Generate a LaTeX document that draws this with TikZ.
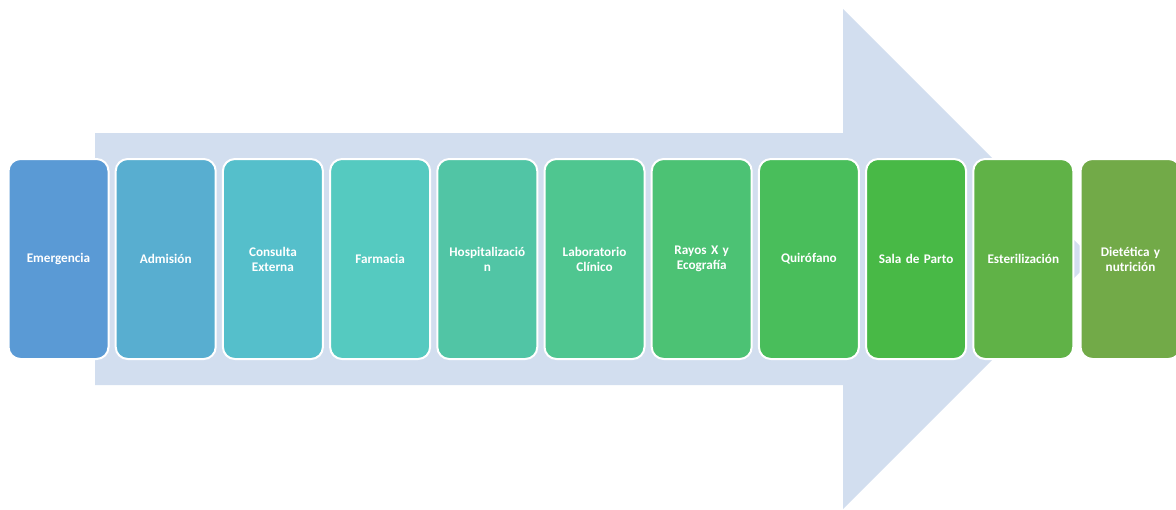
\documentclass[tikz,border=0pt]{standalone}
\usepackage{fontspec}
\setmainfont{Carlito}
\definecolor{arrowbg}{HTML}{D2DEEF}
\definecolor{c1}{HTML}{5A9AD5}
\definecolor{c2}{HTML}{58AED0}
\definecolor{c3}{HTML}{55BFCB}
\definecolor{c4}{HTML}{55CAC0}
\definecolor{c5}{HTML}{51C5A5}
\definecolor{c6}{HTML}{4FC690}
\definecolor{c7}{HTML}{4CC274}
\definecolor{c8}{HTML}{49BE5B}
\definecolor{c9}{HTML}{48B946}
\definecolor{c10}{HTML}{60B247}
\definecolor{c11}{HTML}{72AA48}
\tikzset{
  stage/.style={draw=white, line width=2pt, rounded corners=12pt,
    minimum width=100pt, minimum height=200pt, inner sep=0pt,
    text=white, font=\fontsize{13.2}{15}\selectfont\bfseries,
    align=center, text width=90pt},
}
\begin{document}
\begin{tikzpicture}[x=1pt,y=-1pt]
\useasboundingbox (0,0) rectangle (1176,509);
\fill[arrowbg] (95,133) -- (843,133) -- (843,9) -- (1093,259) -- (843,509)
  -- (843,385) -- (95,385) -- cycle;
\node[stage, fill=c1]  (n1)  at (58.5,259)  {Emergencia};
\node[stage, fill=c2]  (n2)  at (165.7,259) {Admisión};
\node[stage, fill=c3]  (n3)  at (272.9,259) {Consulta\\Externa};
\node[stage, fill=c4]  (n4)  at (380.1,259) {Farmacia};
\node[stage, fill=c5]  (n5)  at (487.3,259) {Hospitalizació\\n};
\node[stage, fill=c6]  (n6)  at (594.5,259) {Laboratorio\\Clínico};
\node[stage, fill=c7]  (n7)  at (701.7,259) {Rayos X y\\Ecografía};
\node[stage, fill=c8]  (n8)  at (808.9,259) {Quirófano};
\node[stage, fill=c9]  (n9)  at (916.1,259) {Sala de Parto};
\node[stage, fill=c10] (n10) at (1023.3,259) {Esterilización};
\node[stage, fill=c11] (n11) at (1130.5,259) {Dietética y\\nutrición};
\end{tikzpicture}
\end{document}
